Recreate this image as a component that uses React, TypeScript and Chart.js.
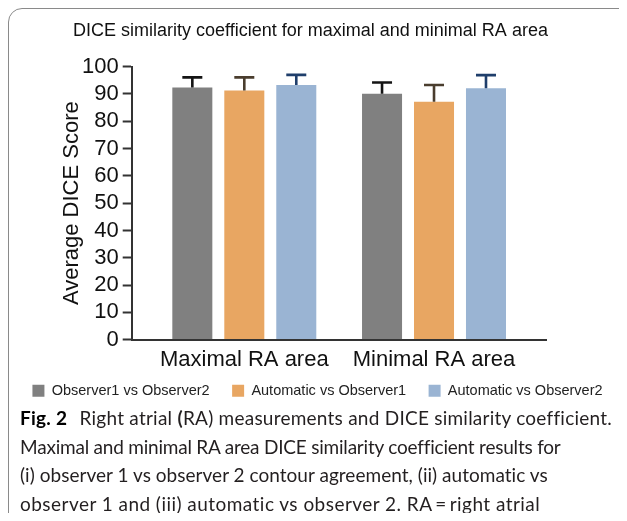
import React, { useEffect, useRef } from "react";
import { Chart, registerables } from "chart.js";

Chart.register(...registerables);

const chartTitle = "DICE similarity coefficient for maximal and minimal RA area";
const yAxisTitle = "Average DICE Score";
const categories = ["Maximal RA area", "Minimal RA area"];
const seriesNames = ["Observer1 vs Observer2", "Automatic vs Observer1", "Automatic vs Observer2"];
const obs1VsObs2 = [92.4, 90.1];
const autoVsObs1 = [91.3, 87.2];
const autoVsObs2 = [93.3, 92.1];
const obs1VsObs2Err = [3.7, 4.1];
const autoVsObs1Err = [4.8, 6.1];
const autoVsObs2Err = [3.7, 4.8];
const yMin = 0;
const yMax = 100;
const yStep = 10;
const barColors = ["#808080", "#E8A662", "#9AB4D3"];
const errColors = ["#141414", "#4A3D2E", "#1F3E6B"];

const FONT = "'Liberation Sans', Arial, Helvetica, sans-serif";

const errorBarPlugin = {
  id: "errorBars",
  afterDatasetsDraw(chart: any) {
    const ctx = chart.ctx;
    const yScale = chart.scales.y;
    chart.data.datasets.forEach((ds: any, i: number) => {
      const meta = chart.getDatasetMeta(i);
      if (meta.hidden) return;
      meta.data.forEach((bar: any, j: number) => {
        const v = ds.data[j].y + ds.errors[j];
        const top = yScale.getPixelForValue(v);
        ctx.save();
        ctx.strokeStyle = ds.errorColor;
        ctx.lineWidth = 2.6;
        ctx.lineCap = "butt";
        ctx.beginPath();
        ctx.moveTo(bar.x, bar.y);
        ctx.lineTo(bar.x, top);
        ctx.moveTo(bar.x - 10, top);
        ctx.lineTo(bar.x + 10, top);
        ctx.stroke();
        ctx.restore();
      });
    });
  },
};

// nudges the title and legend boxes after layout (legend upward, title left)
const boxNudgePlugin = {
  id: "boxNudge",
  afterLayout(chart: any) {
    const lg = chart.legend;
    if (lg) {
      lg.top -= 20;
      lg.bottom -= 20;
    }
    const tb = chart.titleBlock;
    if (tb) {
      tb.left -= 7;
      tb.right -= 7;
    }
  },
};

export default function App() {
  const ref = useRef<HTMLCanvasElement | null>(null);

  useEffect(() => {
    if (!ref.current) return;
    const values = [obs1VsObs2, autoVsObs1, autoVsObs2];
    const errs = [obs1VsObs2Err, autoVsObs1Err, autoVsObs2Err];
    const chart = new Chart(ref.current, {
      type: "bar",
      data: {
        datasets: seriesNames.map((name, i) => ({
          label: name,
          data: values[i].map((y, k) => ({ x: k, y })),
          errors: errs[i],
          errorColor: errColors[i],
          backgroundColor: barColors[i],
          borderWidth: 0,
          categoryPercentage: 0.822,
          barPercentage: 0.77,
        })) as any,
      },
      options: {
        animation: false,
        responsive: false,
        maintainAspectRatio: false,
        layout: { padding: { left: 0, right: 0, top: 0, bottom: 0 } },
        plugins: {
          title: {
            display: true,
            text: chartTitle,
            color: "#111",
            font: { family: FONT, size: 18, weight: "normal" },
            padding: { top: 12.2, bottom: 24.9 },
          },
          legend: {
            display: true,
            position: "bottom",
            align: "center",
            labels: {
              boxWidth: 12,
              boxHeight: 12,
              padding: 22.5,
              color: "#222",
              font: { family: FONT, size: 14.5 },
            },
          },
          tooltip: { enabled: false },
        },
        scales: {
          x: {
            type: "linear",
            min: -0.5936,
            max: 1.594,
            offset: false,
            grid: { display: false, drawTicks: false, offset: false },
            border: { display: true, color: "#333", width: 2 },
            afterBuildTicks: (scale: any) => {
              scale.ticks = categories.map((_, i) => ({ value: i }));
            },
            ticks: {
              padding: 7.5,
              color: "#111",
              font: { family: FONT, size: 22 },
              autoSkip: false,
              maxRotation: 0,
              callback: (v: any) => categories[Math.round(Number(v))] ?? "",
            },
          },
          y: {
            type: "linear",
            position: "left",
            min: yMin,
            max: yMax,
            grid: {
              display: true,
              drawOnChartArea: false,
              drawTicks: true,
              tickLength: 9,
              tickWidth: 2,
              tickColor: "#333",
            },
            border: { display: true, color: "#333", width: 2 },
            ticks: {
              stepSize: yStep,
              autoSkip: false,
              padding: 4,
              color: "#111",
              font: { family: FONT, size: 22 },
            },
            title: {
              display: true,
              text: yAxisTitle,
              color: "#111",
              font: { family: FONT, size: 22 },
              padding: { top: 50.8, bottom: 0 },
            },
            afterFit: (scale: any) => {
              scale.width = 123.7;
            },
          },
          yRight: {
            type: "linear",
            position: "right",
            display: true,
            grid: { display: false },
            border: { display: false },
            ticks: { display: false },
            afterFit: (scale: any) => {
              scale.width = 80.3;
            },
          },
        },
      } as any,
      plugins: [errorBarPlugin, boxNudgePlugin],
    });
    return () => chart.destroy();
  }, []);

  const captionStyle: React.CSSProperties = {
    position: "absolute",
    left: 12,
    top: 396,
    width: 640,
    fontFamily: "Lato, 'Noto Sans', sans-serif",
    fontSize: 19,
    lineHeight: "28.5px",
    color: "#231f20",
    whiteSpace: "nowrap",
  };

  return (
    <div style={{ position: "relative", width: 619, height: 505, overflow: "hidden" }}>
      <style>{`html, body { overflow: hidden; }`}</style>
      <div
        style={{
          position: "absolute",
          left: 0,
          top: 0,
          width: 700,
          height: 600,
          border: "1px solid #8a8a8a",
          borderRadius: 14,
          boxSizing: "border-box",
        }}
      />
      <canvas
        ref={ref}
        width={619}
        height={420}
        style={{ position: "absolute", left: 0, top: 0, width: 619, height: 420 }}
      />
      <div style={captionStyle}>
        <div style={{ letterSpacing: "0.24px" }}>
          <b style={{ color: "#000" }}>Fig. 2</b>
          {"\u2002\u2009Right atrial "}
          <b>(</b>
          {"RA) measurements and DICE similarity coefficient."}
        </div>
        <div style={{ letterSpacing: "-0.21px" }}>
          Maximal and minimal RA area DICE similarity coefficient results for
        </div>
        <div style={{ letterSpacing: "0.03px" }}>
          (i) observer 1 vs observer 2 contour agreement, (ii) automatic vs
        </div>
        <div style={{ letterSpacing: "0.46px" }}>
          {"observer 1 and (iii) automatic vs observer 2. RA\u2009=\u2009right atrial"}
        </div>
      </div>
    </div>
  );
}
